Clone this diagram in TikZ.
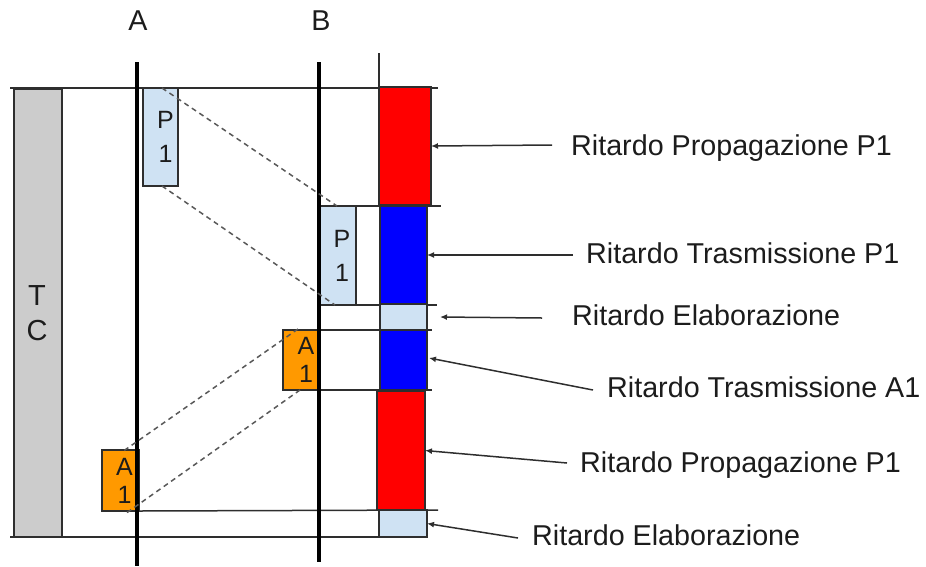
\documentclass[tikz,border=0pt]{standalone}
\usepackage{fontspec}
\setmainfont{Liberation Sans}
\usetikzlibrary{arrows.meta}
\definecolor{edge}{HTML}{2E2E2E}
\definecolor{tcgray}{HTML}{CCCCCC}
\definecolor{paleblue}{HTML}{CFE2F3}
\definecolor{ackorange}{HTML}{FF9900}
\definecolor{ink}{HTML}{1C1C1C}

\begin{document}
\begin{tikzpicture}[x=1pt,y=-1pt,
  blk/.style={draw=edge, line width=1.6pt, inner sep=0pt, outer sep=0pt},
  pkt/.style={blk, fill=paleblue},
  ack/.style={blk, fill=ackorange},
  timeaxis/.style={line width=3.8pt, black},
  rule/.style={draw=edge, line width=1.5pt},
  ghost/.style={draw=edge!80, line width=1.5pt, dash pattern=on 5pt off 4pt},
  pointer/.style={draw=edge, line width=1.5pt, -{Latex[length=7pt,width=6pt]}},
  caption/.style={font=\fontsize{28.7}{34}\selectfont, text=ink, inner sep=0pt, anchor=base west},
  hostname/.style={font=\fontsize{28.7}{34}\selectfont, text=ink, inner sep=0pt},
  ptxt/.style={font=\fontsize{25}{34}\selectfont, text=ink, inner sep=0pt, align=center},
  atxt/.style={font=\fontsize{25}{28}\selectfont, text=ink, inner sep=0pt, align=center},
]
\useasboundingbox (0,0) rectangle (926,566);

% horizontal guide lines
\coordinate (topL) at (10,88);    \coordinate (topR) at (438,88);
\coordinate (botL) at (10,537);   \coordinate (botR) at (379,537);
\coordinate (ackR) at (438,510);
\coordinate (h1R) at (441,206);
\coordinate (h2R) at (437,305);
\coordinate (h3R) at (432,330);
\coordinate (h4R) at (432,390);
\coordinate (tickT) at (379,53);  \coordinate (tickB) at (379,88);

\draw[rule] (topL) -- (topR);
\draw[rule] (botL) -- (botR);
\draw[rule] (tickT) -- (tickB);

% total time bar
\node[blk, fill=tcgray, minimum width=48, minimum height=448] (tc) at (38,313) {};
\node[font=\fontsize{29}{35}\selectfont, text=ink, inner sep=0pt, align=center] (tctxt) at (37,313) {T\\C};

% packets and acknowledgements
\node[pkt, minimum width=35, minimum height=98] (p1a) at (160.5,137) {};
\node[pkt, minimum width=36, minimum height=99] (p1b) at (338,255.5) {};
\node[ack, minimum width=36, minimum height=60] (a1b) at (301,360) {};
\node[ack, minimum width=37, minimum height=61] (a1a) at (120.5,480.5) {};

\draw[rule] (p1b.north west) -- (h1R);
\draw[rule] (p1b.south west) -- (h2R);
\draw[rule] (a1b.north west) -- (h3R);
\draw[rule] (a1b.south west) -- (h4R);
\draw[rule] (a1a.south east) -- (ackR);

\node[ptxt] (p1atxt) at ([xshift=5]p1a.center) {P\\1};
\node[ptxt] (p1btxt) at ([xshift=4]p1b.center) {P\\1};
\node[atxt] (a1btxt) at ([xshift=5]a1b.center) {A\\1};
\node[atxt] (a1atxt) at ([xshift=4]a1a.center) {A\\1};

% delay bars
\node[blk, fill=red, minimum width=52, minimum height=118] (red1) at (405,146) {};
\node[blk, fill=blue, minimum width=47, minimum height=98] (blue1) at (403.5,255) {};
\node[blk, fill=paleblue, minimum width=47, minimum height=26] (lb1) at (403.5,317) {};
\node[blk, fill=blue, minimum width=47, minimum height=60] (blue2) at (403.5,360) {};
\node[blk, fill=red, minimum width=48, minimum height=119] (red2) at (401,450.5) {};
\node[blk, fill=paleblue, minimum width=48, minimum height=27] (lb2) at (403,523.5) {};

% time axes of hosts A and B
\node[hostname] (hA) at (138,21) {A};
\node[hostname] (hB) at (321,21) {B};
\coordinate (aT) at (137,62);  \coordinate (aB) at (137,566);
\coordinate (bT) at (319,62);  \coordinate (bB) at (319,562);
\draw[timeaxis] (aT) -- (aB);
\draw[timeaxis] (bT) -- (bB);

% propagation of the packet edges
\draw[ghost] ([xshift=19]p1a.north west) -- ([xshift=17]p1b.north west);
\draw[ghost] ([xshift=19]p1a.south west) -- ([xshift=15]p1b.south west);
\draw[ghost] ([xshift=15,yshift=1]a1b.north west) -- ([xshift=20,yshift=-2]a1a.north west);
\draw[ghost] ([xshift=17]a1b.south west) -- ([xshift=23,yshift=-3]a1a.south west);

% captions
\node[caption] (c1) at (571,155) {Ritardo Propagazione P1};
\node[caption] (c2) at (586,263) {Ritardo Trasmissione P1};
\node[caption] (c3) at (572,325) {Ritardo Elaborazione};
\node[caption] (c4) at (607,397) {Ritardo Trasmissione A1};
\node[caption] (c5) at (580,472) {Ritardo Propagazione P1};
\node[caption] (c6) at (532,545) {Ritardo Elaborazione};

\coordinate (t1) at (552,145);
\coordinate (t2) at (573,255);
\coordinate (t3) at (542,318);
\coordinate (t4) at (593,390);
\coordinate (t5) at (567,463);
\coordinate (t6) at (518,538);
\draw[pointer] (t1) -- (red1.east);
\draw[pointer] (t2) -- (blue1.east);
\draw[pointer] (t3) -- ([xshift=13]lb1.east);
\draw[pointer] (t4) -- ([shift={(2,-2)}]blue2.east);
\draw[pointer] (t5) -- (red2.east);
\draw[pointer] (t6) -- (lb2.east);
\end{tikzpicture}
\end{document}
